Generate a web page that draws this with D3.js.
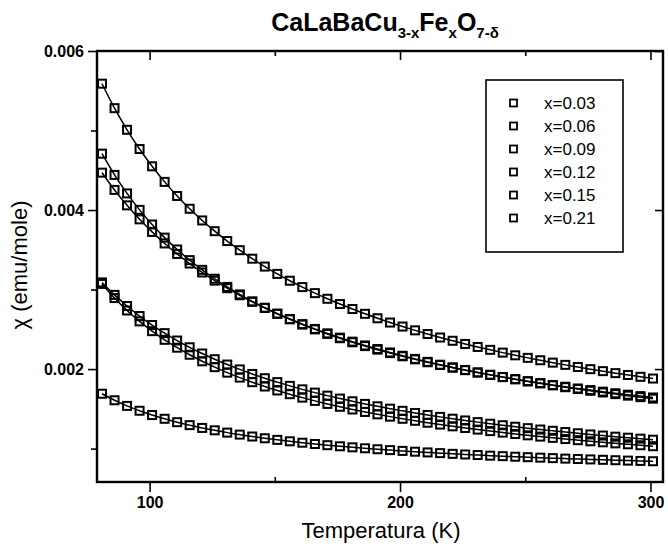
<!DOCTYPE html>
<html>
<head>
<meta charset="utf-8">
<script src="https://cdn.jsdelivr.net/npm/d3@7"></script>
<style>
  html, body { margin: 0; padding: 0; background: #fff; overflow: hidden; }
  svg { display: block; }
  text { font-family: "Liberation Sans", Arial, sans-serif; fill: #000; }
</style>
</head>
<body>
<svg id="chart"></svg>
<script>
const temps = [81, 86, 91, 96, 101, 106, 111, 116, 121, 126, 131, 136, 141, 146, 151,
  156, 161, 166, 171, 176, 181, 186, 191, 196, 201, 206, 211, 216, 221, 226,
  231, 236, 241, 246, 251, 256, 261, 266, 271, 276, 281, 286, 291, 296, 301];

const seriesLabels = ['x=0.03', 'x=0.06', 'x=0.09', 'x=0.12', 'x=0.15', 'x=0.21'];

const chi003 = [0.00169, 0.001608, 0.001537, 0.001476, 0.001422, 0.001375, 0.001332, 0.001295, 0.00126, 0.00123,
  0.001201, 0.001176, 0.001152, 0.00113, 0.00111, 0.001092, 0.001074, 0.001058, 0.001043, 0.001029,
  0.001016, 0.001004, 0.000992, 0.000981, 0.000971, 0.000961, 0.000952, 0.000943, 0.000934, 0.000926,
  0.000919, 0.000911, 0.000905, 0.000898, 0.000892, 0.000886, 0.00088, 0.000874, 0.000869, 0.000864,
  0.000859, 0.000854, 0.000849, 0.000845, 0.000841];

const chi006 = [0.003071, 0.002893, 0.002737, 0.0026, 0.002477, 0.002368, 0.002269, 0.00218, 0.002098, 0.002024,
  0.001955, 0.001893, 0.001835, 0.001781, 0.001731, 0.001684, 0.001641, 0.0016, 0.001562, 0.001526,
  0.001492, 0.001461, 0.001431, 0.001402, 0.001375, 0.00135, 0.001325, 0.001302, 0.00128, 0.001259,
  0.001239, 0.00122, 0.001201, 0.001184, 0.001167, 0.001151, 0.001135, 0.00112, 0.001106, 0.001092,
  0.001079, 0.001066, 0.001054, 0.001042, 0.00103];

const chi009 = [0.00309, 0.002933, 0.002793, 0.002667, 0.002554, 0.002452, 0.002359, 0.002274, 0.002196, 0.002124,
  0.002057, 0.001996, 0.001939, 0.001885, 0.001836, 0.001789, 0.001745, 0.001704, 0.001666, 0.001629,
  0.001595, 0.001562, 0.001532, 0.001502, 0.001475, 0.001448, 0.001423, 0.001399, 0.001376, 0.001354,
  0.001333, 0.001313, 0.001294, 0.001275, 0.001257, 0.00124, 0.001224, 0.001208, 0.001193, 0.001178,
  0.001164, 0.00115, 0.001137, 0.001125, 0.001112];

const chi012 = [0.00447, 0.004253, 0.004059, 0.003883, 0.003725, 0.00358, 0.003448, 0.003327, 0.003215, 0.003112,
  0.003017, 0.002928, 0.002846, 0.002769, 0.002696, 0.002629, 0.002565, 0.002505, 0.002449, 0.002395,
  0.002345, 0.002297, 0.002252, 0.002209, 0.002167, 0.002128, 0.002091, 0.002055, 0.002021, 0.001989,
  0.001958, 0.001928, 0.001899, 0.001872, 0.001845, 0.00182, 0.001795, 0.001772, 0.001749, 0.001727,
  0.001706, 0.001685, 0.001666, 0.001647, 0.001628];

const chi015 = [0.004709, 0.004442, 0.004209, 0.004002, 0.003818, 0.003653, 0.003504, 0.00337, 0.003248, 0.003136,
  0.003033, 0.002939, 0.002851, 0.002771, 0.002696, 0.002626, 0.00256, 0.002499, 0.002442, 0.002388,
  0.002337, 0.002289, 0.002244, 0.002201, 0.002161, 0.002122, 0.002086, 0.002051, 0.002018, 0.001986,
  0.001956, 0.001927, 0.0019, 0.001873, 0.001848, 0.001824, 0.0018, 0.001778, 0.001756, 0.001736,
  0.001716, 0.001696, 0.001678, 0.00166, 0.001643];

const chi021 = [0.005589, 0.005281, 0.005009, 0.004767, 0.00455, 0.004354, 0.004177, 0.004016, 0.003869, 0.003734,
  0.00361, 0.003495, 0.003388, 0.003289, 0.003197, 0.003111, 0.003031, 0.002955, 0.002884, 0.002818,
  0.002755, 0.002695, 0.002639, 0.002585, 0.002535, 0.002487, 0.002441, 0.002397, 0.002356, 0.002316,
  0.002278, 0.002242, 0.002207, 0.002173, 0.002141, 0.002111, 0.002081, 0.002053, 0.002026, 0.001999,
  0.001974, 0.001949, 0.001926, 0.001903, 0.001881];

const xMajor = [100, 200, 300];
const xMinor = [150, 250];
const yMajor = [0.002, 0.004, 0.006];
const yMinor = [0.001, 0.003, 0.005];

const allSeries = [chi003, chi006, chi009, chi012, chi015, chi021];

const width = 668, height = 552;
const margin = { top: 51, right: 5, bottom: 70, left: 97 };
const innerWidth = width - margin.left - margin.right;
const innerHeight = height - margin.top - margin.bottom;

const svg = d3.select('#chart')
  .attr('width', width)
  .attr('height', height)
  .attr('viewBox', `0 0 ${width} ${height}`)
  .style('background', '#fff');

const x = d3.scaleLinear().domain([79, 305]).range([0, innerWidth]);
const y = d3.scaleLinear().domain([0.00058, 0.006]).range([innerHeight, 0]);

const g = svg.append('g')
  .attr('transform', `translate(${margin.left},${margin.top})`);

function styleAxis(sel) {
  sel.select('.domain').remove();
  sel.selectAll('line').attr('stroke', '#000').attr('stroke-width', 1.6);
  sel.selectAll('text').style('font-size', '16px').style('font-weight', 'bold');
}

// tick marks only, no labels
function bareTicks(sel) {
  styleAxis(sel);
  sel.selectAll('text').remove();
}

// bottom axis, ticks outward
g.append('g')
  .attr('transform', `translate(0,${innerHeight})`)
  .call(d3.axisBottom(x).tickValues(xMajor).tickSize(10).tickPadding(5).tickFormat(d3.format('d')))
  .call(styleAxis);
g.append('g')
  .attr('transform', `translate(0,${innerHeight})`)
  .call(d3.axisBottom(x).tickValues(xMinor).tickSize(-5))
  .call(bareTicks);

// top axis, ticks inward
g.append('g')
  .call(d3.axisBottom(x).tickValues(xMajor).tickSize(9))
  .call(bareTicks);
g.append('g')
  .call(d3.axisBottom(x).tickValues(xMinor).tickSize(5))
  .call(bareTicks);

// left axis, ticks outward
g.append('g')
  .call(d3.axisLeft(y).tickValues(yMajor).tickSize(9).tickPadding(4).tickFormat(d3.format('.3f')))
  .call(styleAxis);
g.append('g')
  .call(d3.axisLeft(y).tickValues(yMinor).tickSize(6))
  .call(bareTicks);

// right axis, ticks inward
g.append('g')
  .attr('transform', `translate(${innerWidth},0)`)
  .call(d3.axisLeft(y).tickValues(yMajor).tickSize(8))
  .call(bareTicks);

// frame
g.append('rect')
  .attr('width', innerWidth)
  .attr('height', innerHeight)
  .attr('fill', 'none')
  .attr('stroke', '#000')
  .attr('stroke-width', 2.4);

const line = d3.line()
  .x((d, i) => x(temps[i]))
  .y(d => y(d))
  .curve(d3.curveMonotoneX);

g.selectAll('.curve')
  .data(allSeries)
  .enter()
  .append('path')
  .attr('class', 'curve')
  .attr('d', d => line(d))
  .attr('fill', 'none')
  .attr('stroke', '#000')
  .attr('stroke-width', 1.5);

// open square markers
const ms = 8;
allSeries.forEach(vals => {
  g.selectAll(null)
    .data(vals)
    .enter()
    .append('rect')
    .attr('x', (d, i) => x(temps[i]) - ms / 2)
    .attr('y', d => y(d) - ms / 2)
    .attr('width', ms)
    .attr('height', ms)
    .attr('fill', 'none')
    .attr('stroke', '#000')
    .attr('stroke-width', 2);
});

// legend
const legend = svg.append('g').attr('transform', 'translate(486,80)');
legend.append('rect')
  .attr('width', 137)
  .attr('height', 172)
  .attr('fill', '#fff')
  .attr('stroke', '#000')
  .attr('stroke-width', 1.6);

const rows = legend.selectAll('.row')
  .data(seriesLabels)
  .enter()
  .append('g')
  .attr('transform', (d, i) => `translate(0,${23 + i * 23})`);

rows.append('rect')
  .attr('x', 24)
  .attr('y', -3.5)
  .attr('width', 7)
  .attr('height', 7)
  .attr('fill', 'none')
  .attr('stroke', '#000')
  .attr('stroke-width', 1.8);

rows.append('text')
  .attr('x', 58)
  .attr('y', 6)
  .style('font-size', '17px')
  .text(d => d);

// title
const title = svg.append('text')
  .attr('x', 385)
  .attr('y', 31)
  .attr('text-anchor', 'middle')
  .style('font-size', '25px')
  .style('font-weight', 'bold');
title.append('tspan').text('CaLaBaCu');
title.append('tspan').attr('dy', 7).style('font-size', '15px').text('3-x');
title.append('tspan').attr('dy', -7).text('Fe');
title.append('tspan').attr('dy', 7).style('font-size', '15px').text('x');
title.append('tspan').attr('dy', -7).text('O');
title.append('tspan').attr('dy', 7).style('font-size', '15px').text('7-δ');

// axis titles
svg.append('text')
  .attr('x', 381)
  .attr('y', 538)
  .attr('text-anchor', 'middle')
  .style('font-size', '22px')
  .text('Temperatura (K)');

svg.append('text')
  .attr('transform', 'translate(27,265) rotate(-90)')
  .attr('text-anchor', 'middle')
  .style('font-size', '22px')
  .text('χ (emu/mole)');
</script>
</body>
</html>
